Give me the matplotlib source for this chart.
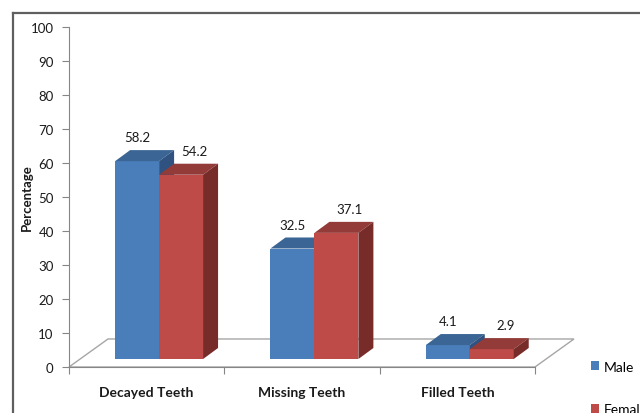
import matplotlib
matplotlib.use("Agg")
import matplotlib.pyplot as plt
from matplotlib.patches import Polygon
from matplotlib.lines import Line2D

plt.rcParams['font.family'] = ['Lato', 'DejaVu Sans']

categories = ["Decayed Teeth", "Missing Teeth", "Filled Teeth"]
series_names = ["Male", "Female"]
male = [58.2, 32.5, 4.1]
female = [54.2, 37.1, 2.9]
y_ticks = [0, 10, 20, 30, 40, 50, 60, 70, 80, 90, 100]

front_colors = ["#4A7EBB", "#BE4B48"]
top_colors = ["#3A6594", "#933B39"]
side_colors = ["#2F5280", "#772C2A"]

W, H = 640, 414
fig = plt.figure(figsize=(W / 100, H / 100), dpi=100)
ax = fig.add_axes([69 / W, (H - 368) / H, (535 - 69) / W, (368 - 28) / H])
ax.set_xlim(0, 3)
ax.set_ylim(0, 100)

# pseudo-3D geometry in data units
floor_dx, floor_dy = 0.251, 8.24   # depth of the floor
base = 2.35                        # front face of bars sits this far back
bar_w = 0.283
shift = 0.08                       # horizontal shift of the bar plane
dep_dx, dep_dy = 0.0966, 3.24      # depth of each bar

# floor
floor = Polygon([(0, 0), (3, 0), (3 + floor_dx, floor_dy), (floor_dx, floor_dy)],
                closed=True, facecolor="white", edgecolor="#A6A6A6", lw=1.0,
                clip_on=False, zorder=1)
ax.add_patch(floor)

values = [male, female]
for i in range(len(categories)):
    center = i + 0.5 + shift
    for j, vals in enumerate(values):
        v = vals[i]
        x0 = center - bar_w + j * bar_w
        top = base + v
        ax.bar(x0, v, width=bar_w, bottom=base, align="edge",
               color=front_colors[j], edgecolor="none",
               zorder=2 + 3 * j, clip_on=False,
               label=series_names[j] if i == 0 else None)
        top_face = Polygon([(x0, top), (x0 + bar_w, top),
                            (x0 + bar_w + dep_dx, top + dep_dy),
                            (x0 + dep_dx, top + dep_dy)],
                           closed=True, facecolor=top_colors[j], edgecolor="none",
                           zorder=2 + 3 * j + 1, clip_on=False)
        side_face = Polygon([(x0 + bar_w, base), (x0 + bar_w, top),
                             (x0 + bar_w + dep_dx, top + dep_dy),
                             (x0 + bar_w + dep_dx, base + dep_dy)],
                            closed=True, facecolor=side_colors[j], edgecolor="none",
                            zorder=2 + 3 * j + 1, clip_on=False)
        ax.add_patch(top_face)
        ax.add_patch(side_face)
        # value label above the bar; the second series sits a little further back
        ax.annotate(f"{v}", xy=(x0 + bar_w / 2 + j * dep_dx * 0.9, top + dep_dy),
                    xytext=(0, 5), textcoords="offset points",
                    ha="center", va="bottom", fontsize=9.5, color="#1A1A1A",
                    zorder=10)

# axes styling
for s in ["top", "right"]:
    ax.spines[s].set_visible(False)
ax.spines["left"].set_color("#868686")
ax.spines["bottom"].set_color("#868686")
ax.set_yticks(y_ticks)
ax.tick_params(axis="y", length=5, color="#868686", labelsize=9.5,
               labelcolor="#1A1A1A", pad=6)
ax.set_xticks([0, 1, 2, 3])
ax.set_xticklabels([])
ax.tick_params(axis="x", length=5, color="#868686")
ax.set_xticks([0.5, 1.5, 2.5], minor=True)
ax.set_xticklabels(categories, minor=True, fontsize=10, fontweight="bold",
                   color="#1A1A1A")
ax.tick_params(axis="x", which="minor", length=0, pad=14)
ax.patch.set_alpha(0)

fig.text(27 / W, 1 - 198 / H, "Percentage", rotation=90, ha="center",
         va="center", fontsize=9.5, fontweight="bold", color="#1A1A1A")

# legend
handles, labels = ax.get_legend_handles_labels()
fig.legend(handles, labels, loc="upper left",
           bbox_to_anchor=(585 / W, 1 - 356 / H), frameon=False,
           fontsize=10, labelspacing=2.2, handlelength=0.6, handleheight=0.6,
           handletextpad=0.35, borderaxespad=0)

# outer frame
fig.add_artist(Line2D([13 / W, 1], [1 - 13.5 / H, 1 - 13.5 / H],
                      color="#5F5F5F", lw=1.6, transform=fig.transFigure))
fig.add_artist(Line2D([13 / W, 13 / W], [0, 1 - 13.5 / H],
                      color="#5F5F5F", lw=1.6, transform=fig.transFigure))

fig.savefig("out.png", dpi=100)
